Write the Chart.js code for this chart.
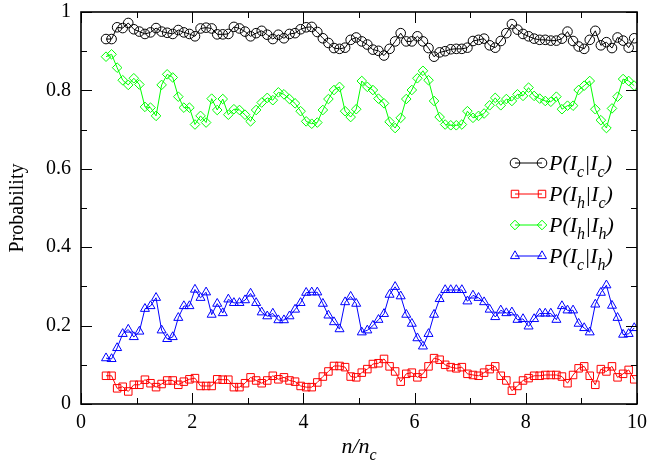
<!DOCTYPE html>
<html><head><meta charset="utf-8">
<script src="https://cdn.jsdelivr.net/npm/chart.js@4.4.0/dist/chart.umd.min.js"></script>
<style>html,body{margin:0;padding:0;background:#fff;}#wrap{width:647px;height:465px;position:relative;}</style>
</head><body><div id="wrap"><canvas id="c" width="647" height="465"></canvas></div>
<script>
const xValues = [0.45,0.55,0.65,0.75,0.85,0.95,1.05,1.15,1.25,1.35,
1.45,1.55,1.65,1.75,1.85,1.95,2.05,2.15,2.25,2.35,
2.45,2.55,2.65,2.75,2.85,2.95,3.05,3.15,3.25,3.35,
3.45,3.55,3.65,3.75,3.85,3.95,4.05,4.15,4.25,4.35,
4.45,4.55,4.65,4.75,4.85,4.95,5.05,5.15,5.25,5.35,
5.45,5.55,5.65,5.75,5.85,5.95,6.05,6.15,6.25,6.35,
6.45,6.55,6.65,6.75,6.85,6.95,7.05,7.15,7.25,7.35,
7.45,7.55,7.65,7.75,7.85,7.95,8.05,8.15,8.25,8.35,
8.45,8.55,8.65,8.75,8.85,8.95,9.05,9.15,9.25,9.35,
9.45,9.55,9.65,9.75,9.85,9.95];

const pIcIc = [0.931,0.931,0.961,0.959,0.972,0.956,0.950,0.944,0.948,0.959,
0.950,0.947,0.944,0.954,0.948,0.944,0.938,0.958,0.960,0.958,
0.943,0.943,0.944,0.962,0.958,0.950,0.938,0.946,0.952,0.942,
0.931,0.942,0.933,0.944,0.946,0.956,0.961,0.962,0.949,0.933,
0.921,0.908,0.906,0.909,0.929,0.935,0.925,0.917,0.904,0.901,
0.889,0.906,0.925,0.946,0.925,0.925,0.938,0.925,0.908,0.886,
0.897,0.900,0.905,0.906,0.906,0.909,0.926,0.929,0.932,0.915,
0.909,0.926,0.946,0.969,0.955,0.944,0.938,0.932,0.929,0.929,
0.927,0.927,0.932,0.950,0.926,0.912,0.906,0.929,0.952,0.915,
0.923,0.908,0.935,0.927,0.909,0.933];

const pIhIc = [0.072,0.072,0.040,0.044,0.032,0.049,0.049,0.062,0.053,0.043,
0.051,0.060,0.060,0.049,0.057,0.063,0.066,0.046,0.046,0.046,
0.063,0.062,0.062,0.043,0.043,0.053,0.068,0.060,0.053,0.060,
0.072,0.063,0.068,0.060,0.057,0.046,0.043,0.043,0.055,0.070,
0.083,0.097,0.097,0.094,0.070,0.068,0.080,0.089,0.102,0.104,
0.115,0.096,0.083,0.057,0.077,0.080,0.068,0.077,0.096,0.117,
0.113,0.100,0.094,0.091,0.094,0.077,0.074,0.072,0.080,0.089,
0.096,0.072,0.060,0.034,0.046,0.060,0.066,0.072,0.072,0.074,
0.074,0.074,0.070,0.053,0.074,0.091,0.096,0.072,0.049,0.089,
0.083,0.096,0.068,0.077,0.087,0.063];

const pIhIh = [0.886,0.892,0.858,0.826,0.814,0.831,0.815,0.758,0.756,0.735,
0.814,0.841,0.833,0.784,0.756,0.756,0.713,0.735,0.718,0.779,
0.750,0.778,0.738,0.752,0.750,0.738,0.721,0.750,0.769,0.781,
0.775,0.795,0.790,0.778,0.767,0.747,0.721,0.715,0.718,0.750,
0.778,0.801,0.809,0.747,0.732,0.752,0.824,0.809,0.801,0.779,
0.767,0.720,0.704,0.730,0.778,0.801,0.831,0.850,0.826,0.773,
0.732,0.713,0.711,0.711,0.713,0.747,0.730,0.735,0.741,0.762,
0.781,0.762,0.778,0.773,0.790,0.786,0.807,0.786,0.779,0.773,
0.771,0.784,0.752,0.761,0.761,0.801,0.812,0.824,0.752,0.724,
0.704,0.754,0.784,0.829,0.824,0.812];

const pIcIh = [0.117,0.115,0.143,0.179,0.190,0.171,0.185,0.243,0.250,0.271,
0.188,0.166,0.171,0.220,0.250,0.250,0.292,0.271,0.285,0.228,
0.256,0.232,0.267,0.258,0.258,0.265,0.282,0.258,0.234,0.224,
0.231,0.214,0.214,0.224,0.241,0.258,0.284,0.285,0.285,0.256,
0.226,0.209,0.191,0.260,0.274,0.256,0.183,0.188,0.200,0.215,
0.230,0.279,0.299,0.275,0.228,0.205,0.168,0.147,0.179,0.228,
0.268,0.291,0.291,0.291,0.291,0.262,0.277,0.271,0.260,0.241,
0.222,0.239,0.232,0.234,0.215,0.217,0.198,0.217,0.231,0.231,
0.231,0.215,0.250,0.239,0.239,0.205,0.194,0.183,0.254,0.284,
0.303,0.251,0.220,0.177,0.179,0.194];

const seriesLabels = ['P(I_c|I_c)', 'P(I_h|I_c)', 'P(I_h|I_h)', 'P(I_c|I_h)'];
const xMajorTicks = [0, 2, 4, 6, 8, 10];
const xMinorTicks = [1, 3, 5, 7, 9];
const yMajorTicks = [0, 0.2, 0.4, 0.6, 0.8, 1];
const yMinorTicks = [0.1, 0.3, 0.5, 0.7, 0.9];
const yTickLabels = ['0', '0.2', '0.4', '0.6', '0.8', '1'];
const xTickLabels = ['0', '2', '4', '6', '8', '10'];
const xTitle = ['n/n', 'c'];
const yTitle = 'Probability';

const SERIF = '"Liberation Serif", "Times New Roman", serif';
Chart.defaults.font.family = SERIF;

const colors = ['#000000', '#ff0000', '#00ff00', '#0000ff'];
const shapes = ['circle', 'rect', 'rectRot', 'triangle'];
const radii = [4.8, 5.3, 4.8, 5.2];
const seriesData = [pIcIc, pIhIc, pIhIh, pIcIh];

const datasets = seriesData.map((arr, i) => ({
  label: seriesLabels[i],
  data: arr.map((v, k) => ({x: xValues[k], y: v})),
  borderColor: colors[i],
  borderWidth: 1,
  pointStyle: shapes[i],
  pointRadius: radii[i],
  pointBorderColor: colors[i],
  pointBackgroundColor: 'rgba(0,0,0,0)',
  pointBorderWidth: 1,
  tension: 0,
  fill: false
}));

function drawMarker(ctx, shape, x, y, r) {
  ctx.beginPath();
  if (shape === 'circle') { ctx.arc(x, y, r, 0, Math.PI * 2); }
  else if (shape === 'rect') { const s = r * Math.SQRT1_2; ctx.rect(x - s, y - s, 2 * s, 2 * s); }
  else if (shape === 'rectRot') { ctx.moveTo(x - r, y); ctx.lineTo(x, y - r); ctx.lineTo(x + r, y); ctx.lineTo(x, y + r); ctx.closePath(); }
  else if (shape === 'triangle') {
    for (let j = 0; j < 3; j++) { const a = j * 2 * Math.PI / 3; const px = x + Math.sin(a) * r, py = y - Math.cos(a) * r; if (j === 0) ctx.moveTo(px, py); else ctx.lineTo(px, py); }
    ctx.closePath();
  }
  ctx.stroke();
}

function drawSubText(ctx, text, x, y, size, subSize, align) {
  const parts = [];
  const re = /_(.)/g; let last = 0, m;
  while ((m = re.exec(text)) !== null) { if (m.index > last) parts.push([text.slice(last, m.index), false]); parts.push([m[1], true]); last = m.index + 2; }
  if (last < text.length) parts.push([text.slice(last), false]);
  const mainFont = 'italic ' + size + 'px ' + SERIF;
  const subFont = 'italic ' + subSize + 'px ' + SERIF;
  let total = 0;
  parts.forEach(p => { ctx.font = p[1] ? subFont : mainFont; total += ctx.measureText(p[0]).width; });
  let cx = align === 'center' ? x - total / 2 : x;
  ctx.textAlign = 'left'; ctx.textBaseline = 'alphabetic';
  parts.forEach(p => { ctx.font = p[1] ? subFont : mainFont; ctx.fillText(p[0], cx, p[1] ? y + Math.round(size * 0.3) : y); cx += ctx.measureText(p[0]).width; });
}

const framePlugin = {
  id: 'framePlugin',
  afterDraw(chart) {
    const {ctx, chartArea: a, scales: {x, y}} = chart;
    ctx.save();
    ctx.strokeStyle = '#000'; ctx.lineWidth = 1;
    ctx.beginPath();
    const xt = xMajorTicks.map(v => [v, 11]).concat(xMinorTicks.map(v => [v, 6]));
    xt.forEach(([v, len]) => { const px = Math.round(x.getPixelForValue(v)) + 0.5; ctx.moveTo(px, a.bottom); ctx.lineTo(px, a.bottom - len); ctx.moveTo(px, a.top); ctx.lineTo(px, a.top + len); });
    const yt = yMajorTicks.map(v => [v, 11]).concat(yMinorTicks.map(v => [v, 6]));
    yt.forEach(([v, len]) => { const py = Math.round(y.getPixelForValue(v)) + 0.5; ctx.moveTo(a.left, py); ctx.lineTo(a.left + len, py); ctx.moveTo(a.right, py); ctx.lineTo(a.right - len, py); });
    ctx.stroke();
    ctx.lineWidth = 1.6;
    ctx.strokeRect(a.left, a.top, a.right - a.left, a.bottom - a.top);
    ctx.fillStyle = '#000';
    drawSubText(ctx, xTitle[0] + '_' + xTitle[1], (a.left + a.right) / 2, 453, 22, 16, 'center');
    const rows = [163, 194, 225, 256];
    seriesLabels.forEach((lab, i) => {
      const ry = rows[i];
      ctx.strokeStyle = colors[i]; ctx.lineWidth = 1;
      ctx.beginPath(); ctx.moveTo(515, ry); ctx.lineTo(542, ry); ctx.stroke();
      drawMarker(ctx, shapes[i], 515, ry, radii[i]);
      drawMarker(ctx, shapes[i], 542, ry, radii[i]);
      ctx.fillStyle = '#000';
      drawSubText(ctx, lab, 549, ry + 7, 22, 16, 'left');
    });
    ctx.restore();
  }
};

new Chart(document.getElementById('c'), {
  type: 'line',
  data: { datasets },
  options: {
    responsive: false,
    animation: false,
    devicePixelRatio: 1,
    layout: { padding: { top: 12, right: 10, left: 0, bottom: 0 } },
    plugins: { legend: { display: false }, tooltip: { enabled: false } },
    scales: {
      x: {
        type: 'linear', min: 0, max: 10,
        afterFit: s => { s.height = 61; s.paddingLeft = 0; s.paddingRight = 0; },
        afterBuildTicks: s => { s.ticks = xMajorTicks.map(v => ({value: v})); },
        grid: { display: false, drawTicks: false },
        border: { display: false },
        ticks: { color: '#000', padding: 7, maxRotation: 0, font: { family: SERIF, size: 20 },
          callback: v => xTickLabels[xMajorTicks.indexOf(v)] }
      },
      y: {
        type: 'linear', min: 0, max: 1,
        afterFit: s => { s.width = 81; s.paddingTop = 0; s.paddingBottom = 0; },
        afterBuildTicks: s => { s.ticks = yMajorTicks.map(v => ({value: v})); },
        grid: { display: false, drawTicks: false },
        border: { display: false },
        ticks: { color: '#000', padding: 10, font: { family: SERIF, size: 20 },
          callback: v => yTickLabels[yMajorTicks.findIndex(t => Math.abs(t - v) < 1e-9)] },
        title: { display: true, text: yTitle, color: '#000', font: { family: SERIF, size: 20 }, padding: { top: 6, bottom: 0 } }
      }
    }
  },
  plugins: [framePlugin]
});
</script></body></html>
